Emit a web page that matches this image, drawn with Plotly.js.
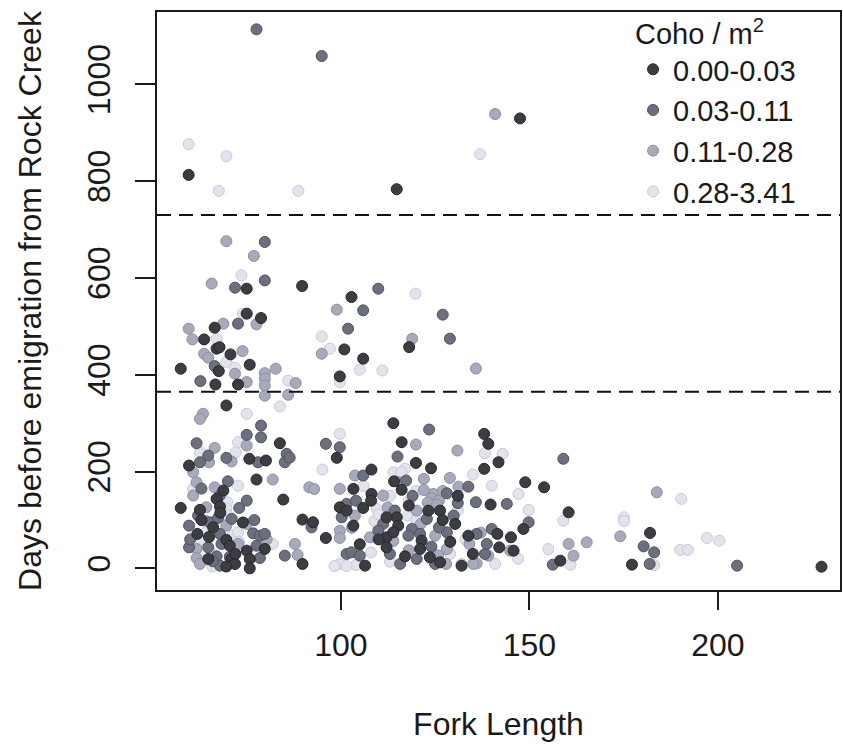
<!DOCTYPE html>
<html>
<head>
<meta charset="utf-8">
<script src="https://cdn.plot.ly/plotly-3.0.1.min.js"></script>
<style>html,body{margin:0;padding:0;background:#fff;}#chart{width:843px;height:746px;}</style>
</head>
<body>
<div id="chart"></div>
<script>
// Category labels (Coho density per m^2)
var categories = ["0.00-0.03", "0.03-0.11", "0.11-0.28", "0.28-3.41"];
var categoryColors = ["#3c3c43", "#6c6f7d", "#a8aabc", "#e3e3ee"];
var categoryEdges = ["#26262c", "#50525e", "#8d8fa2", "#c9c9d6"];

// Reference lines (days)
var thresholds = [365, 730];

// Axis ticks
var xTicks = [100, 150, 200];
var yTicks = [0, 200, 400, 600, 800, 1000];

// 0.00-0.03
var fl_000_003 = [59.6,114.8,147.5,75,89.7,102.8,75,78.8,66.5,63.7,67,67.8,70.7,67.6,75.8,57.5,66.7,72.7,100.9,105.9,99.7,118.1,
  138,139.1,116.1,141.8,119.9,123.9,138,148.9,153.9,139.7,160.4,148.4,145.1,141.5,145.8,142,158.2,182,177.2,227.5,
  69.6,83.8,59.7,75.7,80.1,77.6,68.8,67,84.7,57.5,62.6,67.9,66.1,61.9,69.6,70.5,75,79.8,64.8,70.9,75.8,71.9,69.6,75.8,89.8,96,89.8,92.6,98.9,99.7,
  113.9,108.1,114.1,103.3,108.1,116.1,105.9,114.8,123.2,126.3,130.3,112.1,115.2,103.3,101.5,112.1,121.4,133.8,106.4,112.1,121,123.6,126.3,132,113.9,
  108,118,127,131,110,117,129,135,105,65,72,63,68,74];
var days_000_003 = [813,783.5,929.7,578,583.5,560.7,526.4,517.3,497.4,473.2,454,457,442.2,407.7,420.9,412.6,380,380,452.5,433.3,396.7,457.3,
  278,257.5,260.8,219.4,218,207,205.8,178,167.7,132,116,81.7,64.4,71.4,36.8,43.6,16,73.4,7.9,3.7,
  336.7,258.7,212.6,226.5,223,183.7,161,143.7,142.3,125,121,127.8,85,71.4,59,47,36.8,40.3,19.6,19.6,19.6,9.3,4,0.2,9.3,63,101,95.4,228.5,126.4,
  300,204.3,180,164.4,154,162.4,125,105.7,119.5,119.5,92,105.7,88.5,88.5,119.5,64.4,57.5,67.8,5.8,43.6,40.3,23,12.6,5.8,74.7,
  140,130,100,150,60,25,55,30,50,65,30,100,115,95];

// 0.03-0.11
var fl_003_011 = [77.6,94.9,79.8,71.9,79.8,109.9,105.9,127,72.7,66.5,62.7,101.9,128.9,
  123.4,159,133.8,144,135.8,149.8,138.2,156.2,180.3,183.1,181.9,205.1,
  78.8,75,78.8,61.7,64.8,62.6,69.6,78,85.6,85.1,86.4,67.8,75,62.1,59.7,65.2,67.4,71,67.9,76.7,78.5,79.8,68.3,59.7,64.8,77.6,85.1,67,70.5,78.5,67.9,92.2,96,99.7,101.5,
  115,105.9,117.3,128.1,101.5,114.3,129.9,122.8,118.8,111.2,109.9,117.9,121,128.1,136,140,138.7,102.8,105,115.7,120.1,125,100.2,
  119,126,113,104,131,124,60,66,73,77,63,70];
var days_003_011 = [1113.7,1058.5,674.5,580,595,578,533.2,524.3,505.7,418,387,495.3,474.6,
  287,226.5,169,133.4,136.8,95.4,30,7.9,45.7,33.3,9.3,5.8,
  295.3,276,271,258.7,233.3,219.4,228.5,219.4,236.8,219.4,229,150,140.2,109.2,88.5,95.4,104.4,102.4,71.4,72.6,67.8,71.4,50.7,43.6,43.6,47,26.5,25,24,21.6,5.8,85,257.5,250.5,30,
  231.2,192,181.6,155.3,133.4,119.5,109.2,102.4,81.7,92,78,67.8,71.4,74.7,71.4,81.7,50.7,33.3,26.5,9.3,19.6,9.3,105.7,
  150,85,30,140,135,45,60,15,125,100,165,180];

// 0.11-0.28
var fl_011_028 = [140.9,69.6,76.9,65.7,98.9,68.8,77.6,59.6,60.6,63.7,64.8,73.9,71.9,75,79.8,79.8,79.8,79.8,82.7,88,86,94.9,118.9,135.8,
  119.9,130.9,128.9,122,144.9,136,160.4,165.2,161.7,174.1,183.8,
  63.4,62.6,66.5,75,65,71,60.8,81.9,61.7,66.5,60.8,64.3,63.9,69.6,75,80.3,72.7,61.7,87.8,88.5,61.7,62.6,91.6,92.9,99.7,99.7,99.7,
  103.7,115.5,111.2,124.5,131.2,103.7,112.4,120.1,121.2,102.9,107.7,125,137.1,134.1,118,127.9,135.1,125.8,128.1,139.1,
  124,126,127,123,125.5,122,113.9];
var days_011_028 = [938.6,676,645.6,588.4,534.6,505.7,504.3,495.3,473.2,443.6,435.4,449,402.3,385,403.5,392,378,357,412.6,383,358.8,443.6,474.6,413,
  256,243.6,187,185,36.8,10.5,50.7,54,26.5,66.4,157.4,
  319.5,309,249.2,254,219.4,221,198.8,183.7,178,167.7,150.6,126.4,98.9,88.5,92,60,50.7,40.3,50.7,28,21.6,9.3,167.7,164,164.4,78,63,
  192,178,150.6,154,169,109.2,126,119.5,92,84,64.4,67.8,74,50.7,37.6,9.3,9.3,27,40,26.5,
  145,140,160,136,132,162,57];

// 0.28-3.41
var fl_028_341 = [59.6,69.6,67.6,88.7,136.9,73.6,119.8,74,67,69.6,71.9,86,94.9,97.1,105,111,99.7,
  117,135,138.2,142.9,140,147.1,149.8,159,155,160.9,175.1,175.1,190.3,183.1,190,192,197.1,200.4,
  75,83.8,72.7,62.6,72.1,60.8,72.7,69.9,69.6,64.3,71.3,72.7,81.9,65.9,99.7,95.1,99.7,98.3,
  113.9,116,119.9,109.5,117.7,108.9,104,101.5,108,113,132,140.9,147,
  118,110,120,113,106,131,133,129,63,66,70,73];
var days_028_341 = [876.5,851.7,780,780,855.8,605.6,567.7,526,474.6,426.3,414.7,388,479.4,454,410.5,409,385,
  205.8,194,238,236.8,171,154,121,98.9,40,7.9,105.7,98,143.7,7,38.3,38.3,63,57.5,
  319.5,334.7,260.8,240,240,164.4,171,136.7,124,75,69,74.7,50.7,4,278,204.3,9.3,5,
  198.8,199,160,123,109,98,7,5,33,14,9,9.3,20,
  140,112,100,150,170,120,60,30,60,30,110,55];

var xs = [fl_000_003, fl_003_011, fl_011_028, fl_028_341];
var ys = [days_000_003, days_003_011, days_011_028, days_028_341];

var font = "'Liberation Sans', Arial, Helvetica, sans-serif";
var traces = [];
// draw lightest first so darker points sit on top
for (var i = categories.length - 1; i >= 0; i--) {
  traces.push({
    type: "scatter", mode: "markers", name: categories[i],
    x: xs[i], y: ys[i],
    marker: {size: 11, color: categoryColors[i], line: {width: 1, color: categoryEdges[i]}},
    hoverinfo: "x+y+name"
  });
}

var shapes = thresholds.map(function (t) {
  return {type: "line", xref: "paper", x0: 0, x1: 1, yref: "y", y0: t, y1: t,
          line: {color: "#111", width: 2, dash: "14px,8px"}, layer: "above"};
});

var layout = {
  width: 843, height: 746,
  margin: {l: 157, r: 3, t: 12, b: 156},
  paper_bgcolor: "#fff", plot_bgcolor: "#fff",
  font: {family: font, color: "#1a1a1a"},
  showlegend: true,
  xaxis: {
    range: [51.2, 232.4], tickvals: xTicks, ticktext: xTicks.map(String),
    ticks: "outside", ticklen: 18, tickwidth: 2, tickcolor: "#1a1a1a",
    showline: true, linewidth: 2, linecolor: "#1a1a1a", mirror: true,
    showgrid: false, zeroline: false,
    tickfont: {size: 32, family: font, color: "#1a1a1a"},
    ticklabelstandoff: 8,
    title: {text: "Fork Length", font: {size: 32, family: font, color: "#1a1a1a"}, standoff: 50}
  },
  yaxis: {
    range: [-44.5, 1149.5], tickvals: yTicks, ticktext: yTicks.map(String),
    ticks: "outside", ticklen: 20, tickwidth: 2, tickcolor: "#1a1a1a",
    showline: true, linewidth: 2, linecolor: "#1a1a1a", mirror: true,
    showgrid: false, zeroline: false, tickangle: -90,
    tickfont: {size: 32, family: font, color: "#1a1a1a"},
    ticklabelstandoff: 12,
    title: {text: "Days before emigration from Rock Creek", font: {size: 32, family: font, color: "#1a1a1a"}, standoff: 30}
  },
  legend: {
    x: 0.697, y: 1.01, xanchor: "left", yanchor: "top",
    bgcolor: "rgba(0,0,0,0)", borderwidth: 0,
    traceorder: "reversed", tracegroupgap: 0, itemwidth: 30,
    font: {size: 29, family: font, color: "#1a1a1a"},
    title: {text: "Coho / m<sup>2</sup>", side: "top", font: {size: 29, family: font, color: "#1a1a1a"}}
  },
  shapes: shapes
};

Plotly.newPlot("chart", traces, layout, {displayModeBar: false, staticPlot: true});
</script>
</body>
</html>
